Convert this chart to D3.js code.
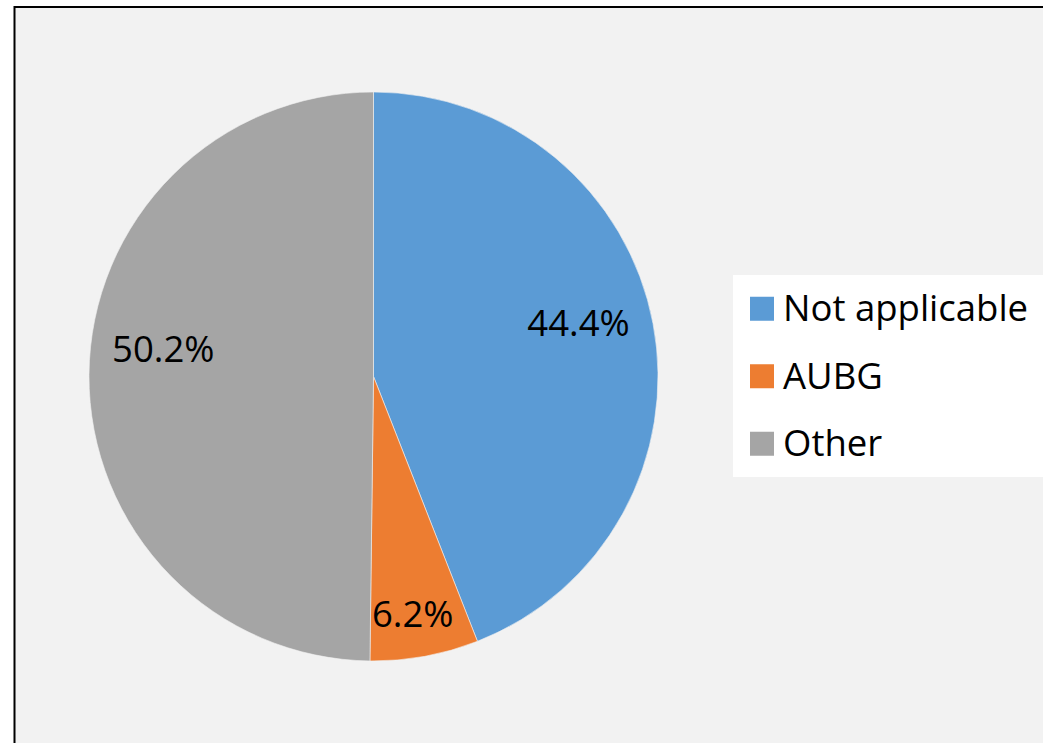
<!DOCTYPE html>
<html lang="en">
<head>
    <meta charset="UTF-8">
    <script src="https://d3js.org/d3.v7.min.js"></script>
    <title>Pie</title>
    <style>
        body { margin: 0; background: #fff; }
        svg { display: block; font-family: "Open Sans", sans-serif; }
    </style>
</head>
<body>
    <script>
        // data
        const categories = ["Not applicable", "AUBG", "Other"];
        const values = [44.4, 6.2, 50.2];
        const labels = ["44.4%", "6.2%", "50.2%"];
        const colors = ["#5b9bd5", "#ed7d31", "#a5a5a5"];

        // label placement (radius, angle nudge in degrees) - mimics excel best fit
        const labelRadius = [212, 241, 212];
        const labelNudge = [-4, 1, 7];

        const w = 1043;
        const h = 743;
        const cx = 373.5, cy = 376.5, r = 284.5;

        const svg = d3.select("body").append("svg")
            .attr("width", w)
            .attr("height", h);

        // chart area
        svg.append("rect")
            .attr("x", 14.5)
            .attr("y", 7)
            .attr("width", w + 20)
            .attr("height", h + 20)
            .attr("fill", "#f2f2f2")
            .attr("stroke", "#000")
            .attr("stroke-width", 2);

        const pie = d3.pie().sort(null).value(d => d);
        const arcs = pie(values);
        const arc = d3.arc().innerRadius(0).outerRadius(r);

        const g = svg.append("g").attr("transform", `translate(${cx},${cy})`);

        g.selectAll("path")
            .data(arcs)
            .join("path")
            .attr("d", arc)
            .attr("fill", (d, i) => colors[i])
            .attr("stroke", "#f2f2f2")
            .attr("stroke-width", 0.6);

        g.selectAll("text")
            .data(arcs)
            .join("text")
            .attr("transform", (d, i) => {
                const a = (d.startAngle + d.endAngle) / 2 + labelNudge[i] * Math.PI / 180;
                const x = labelRadius[i] * Math.sin(a);
                const y = -labelRadius[i] * Math.cos(a);
                return `translate(${x},${y})`;
            })
            .attr("text-anchor", "middle")
            .attr("dy", "0.36em")
            .attr("font-size", 36.5)
            .attr("fill", "#000")
            .text((d, i) => labels[i]);

        // legend
        const legend = svg.append("g").attr("transform", "translate(733,275)");
        legend.append("rect")
            .attr("width", 320)
            .attr("height", 202)
            .attr("fill", "#fff");

        const y = d3.scalePoint().domain(categories).range([0, 202.5]).padding(0.5);

        const item = legend.selectAll("g.item")
            .data(categories)
            .join("g")
            .attr("class", "item")
            .attr("transform", d => `translate(0,${y(d)})`);

        item.append("rect")
            .attr("x", 17)
            .attr("y", -12)
            .attr("width", 24)
            .attr("height", 24)
            .attr("fill", (d, i) => colors[i]);

        item.append("text")
            .attr("x", 50)
            .attr("y", 12.5)
            .attr("font-size", 36.5)
            .attr("fill", "#000")
            .text(d => d);
    </script>
</body>
</html>
